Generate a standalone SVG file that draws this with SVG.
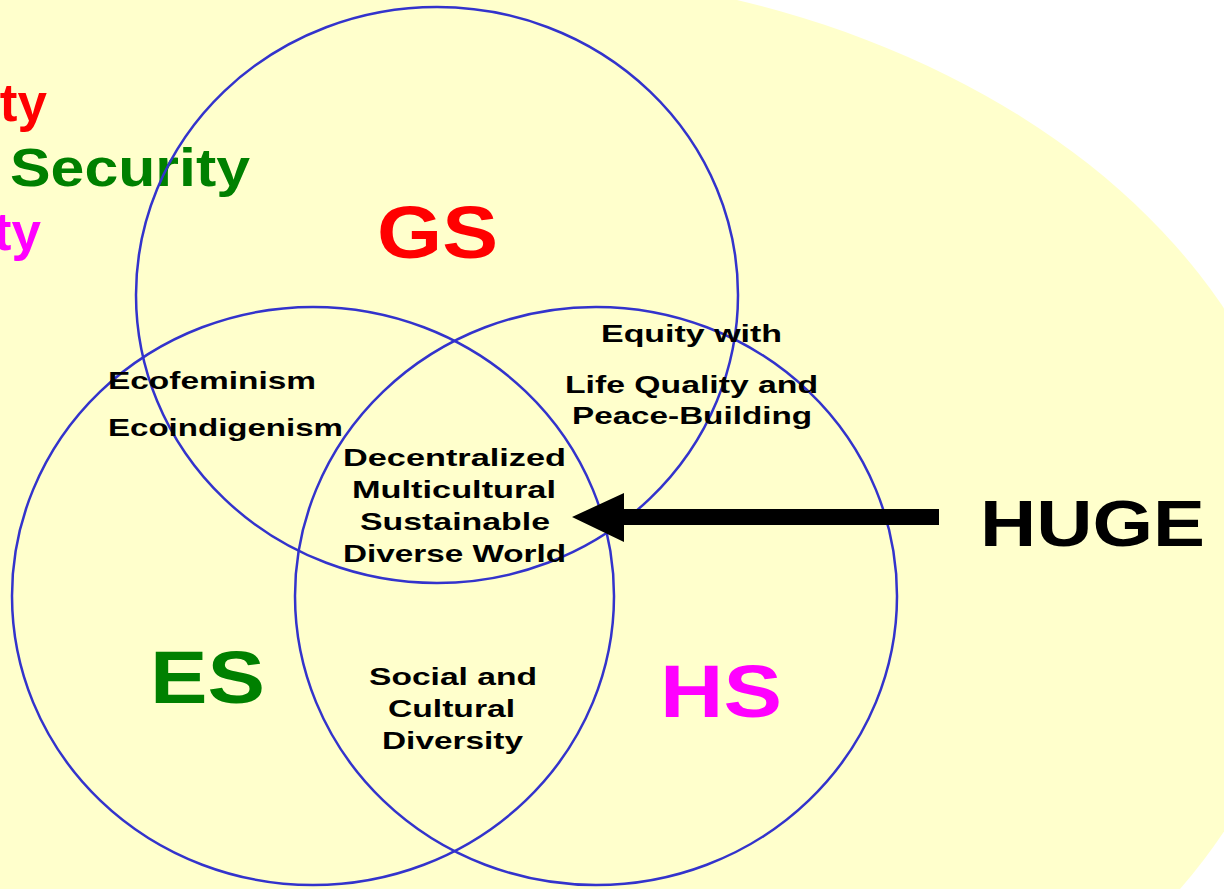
<svg xmlns="http://www.w3.org/2000/svg" width="1224" height="889" viewBox="0 0 1224 889">
  <style>
    .ring { fill: none; stroke: #3333CC; stroke-width: 2.5; }
    .lbl { font-family: "Liberation Sans", Arial, sans-serif; font-weight: bold; }
    .small { font-size: 24px; fill: #000000; }
    .big { font-size: 74px; }
    .side { font-size: 53px; }
    .red { fill: #FF0000; }
    .green { fill: #008000; }
    .magenta { fill: #FF00FF; }
  </style>

  <!-- page background and the large pale backdrop (curved edge on the right) -->
  <rect width="1224" height="889" fill="#FFFFFF"/>
  <path d="M0,0 L737,0 A829,600 0 0 1 1180,889 L0,889 Z" fill="#FFFFCC"/>

  <!-- side headings running off the left edge -->
  <g id="side-headings" class="lbl side">
    <text class="red" x="47" y="121" text-anchor="end">ty</text>
    <text class="green" x="10" y="186" textLength="240" lengthAdjust="spacingAndGlyphs">Security</text>
    <text class="magenta" x="41" y="250" text-anchor="end">ty</text>
  </g>

  <!-- GS circle -->
  <g id="node-gs">
    <ellipse class="ring" cx="437" cy="295" rx="301" ry="288"/>
    <text class="lbl big red" x="377" y="258" textLength="121" lengthAdjust="spacingAndGlyphs">GS</text>
  </g>

  <!-- ES circle -->
  <g id="node-es">
    <ellipse class="ring" cx="313" cy="596" rx="301" ry="289"/>
    <text class="lbl big green" x="150" y="703" textLength="115" lengthAdjust="spacingAndGlyphs">ES</text>
  </g>

  <!-- HS circle -->
  <g id="node-hs">
    <ellipse class="ring" cx="596" cy="596" rx="301" ry="289"/>
    <text class="lbl big magenta" x="660" y="717" textLength="122" lengthAdjust="spacingAndGlyphs">HS</text>
  </g>

  <!-- overlap GS/ES -->
  <g id="overlap-gs-es" class="lbl small">
    <text x="108" y="389" textLength="208" lengthAdjust="spacingAndGlyphs">Ecofeminism</text>
    <text x="108" y="436" textLength="235" lengthAdjust="spacingAndGlyphs">Ecoindigenism</text>
  </g>

  <!-- overlap GS/HS -->
  <g id="overlap-gs-hs" class="lbl small">
    <text x="601" y="342" textLength="181" lengthAdjust="spacingAndGlyphs">Equity with</text>
    <text x="565" y="393" textLength="253" lengthAdjust="spacingAndGlyphs">Life Quality and</text>
    <text x="572" y="424" textLength="240" lengthAdjust="spacingAndGlyphs">Peace-Building</text>
  </g>

  <!-- overlap ES/HS -->
  <g id="overlap-es-hs" class="lbl small">
    <text x="369" y="685" textLength="168" lengthAdjust="spacingAndGlyphs">Social and</text>
    <text x="388" y="717" textLength="127" lengthAdjust="spacingAndGlyphs">Cultural</text>
    <text x="382" y="749" textLength="141" lengthAdjust="spacingAndGlyphs">Diversity</text>
  </g>

  <!-- centre of all three -->
  <g id="centre" class="lbl small">
    <text x="343" y="466" textLength="223" lengthAdjust="spacingAndGlyphs">Decentralized</text>
    <text x="352" y="498" textLength="204" lengthAdjust="spacingAndGlyphs">Multicultural</text>
    <text x="360" y="530" textLength="190" lengthAdjust="spacingAndGlyphs">Sustainable</text>
    <text x="343" y="562" textLength="223" lengthAdjust="spacingAndGlyphs">Diverse World</text>
  </g>

  <!-- HUGE label -->
  <g id="node-huge">
    <text class="lbl" x="980" y="546" font-size="64" fill="#000000" textLength="225" lengthAdjust="spacingAndGlyphs">HUGE</text>
  </g>

  <!-- connectors -->
  <g id="connectors">
    <path d="M939,509 L624,509 L624,493 L572,517 L624,542 L624,525 L939,525 Z" fill="#000000"/>
  </g>
</svg>
